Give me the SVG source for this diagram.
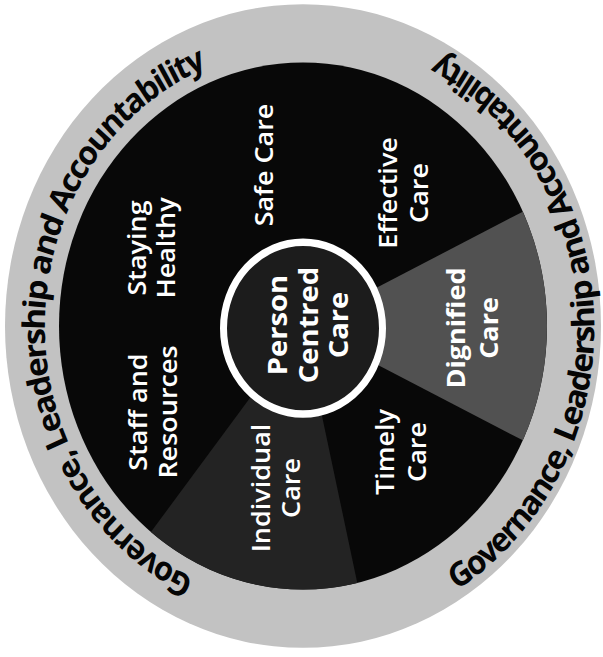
<svg xmlns="http://www.w3.org/2000/svg" width="603" height="657" viewBox="0 0 603 657">
  <style>
    .lbl { fill: #ffffff; font-family: "Open Sans", "Noto Sans", "DejaVu Sans", sans-serif; font-size: 25px; font-weight: 600; text-anchor: middle; }
    .ctr { fill: #ffffff; font-family: "Open Sans", "Noto Sans", "DejaVu Sans", sans-serif; font-size: 27px; font-weight: 700; text-anchor: middle; }
    .ring { fill: #050505; font-family: "Open Sans", "Noto Sans", "DejaVu Sans", sans-serif; font-size: 31px; font-weight: 700; text-anchor: middle; }
  </style>
  <defs>
    <path id="arcLeft" d="M -44.8,254.1 A 258,258 0 0,1 -31.4,-256.1"/>
    <path id="arcRight" d="M 74.3,277.3 A 284,284 0 0,0 54.2,-278.8"/>
  </defs>
  <rect width="603" height="657" fill="#ffffff"/>
  <g transform="translate(303,326) scale(1,1.08)">
    <g id="governance-ring">
      <circle r="298" fill="#c2c2c2"/>
      <text class="ring"><textPath href="#arcLeft" startOffset="50%" textLength="600" lengthAdjust="spacing">Governance, Leadership and Accountability</textPath></text>
      <text class="ring"><textPath href="#arcRight" startOffset="50%" textLength="605" lengthAdjust="spacing">Governance, Leadership and Accountability</textPath></text>
    </g>
    <circle id="care-disk" r="244" fill="#080808"/>
    <path id="dignified-sector" d="M0,0 L219.8,-105.9 A244,244 0 0,1 219.8,105.9 Z" fill="#515151"/>
    <path id="individual-sector" d="M0,0 L54.3,237.9 A244,244 0 0,1 -152.1,190.8 Z" fill="#232323"/>
    <g id="person-centred-care-circle">
      <circle cx="0" cy="2" r="79.5" fill="#1c1c1c" stroke="#ffffff" stroke-width="7"/>
    </g>
  </g>
  <g id="safe-care">
    <text class="lbl" transform="translate(273,165) rotate(-90) scale(1.08,1)">Safe Care</text>
  </g>
  <g id="effective-care">
    <text class="lbl" transform="translate(397,193) rotate(-90) scale(1.08,1)"><tspan x="0" y="0">Effective</tspan><tspan x="0" y="31">Care</tspan></text>
  </g>
  <g id="dignified-care">
    <text class="lbl" style="font-weight:700" transform="translate(465,328) rotate(-90) scale(1.08,1)"><tspan x="0" y="0">Dignified</tspan><tspan x="0" y="33">Care</tspan></text>
  </g>
  <g id="timely-care">
    <text class="lbl" transform="translate(394,452) rotate(-90) scale(1.08,1)"><tspan x="0" y="0">Timely</tspan><tspan x="0" y="32">Care</tspan></text>
  </g>
  <g id="individual-care">
    <text class="lbl" transform="translate(270,488) rotate(-90) scale(1.08,1)"><tspan x="0" y="0">Individual</tspan><tspan x="0" y="30">Care</tspan></text>
  </g>
  <g id="staff-and-resources">
    <text class="lbl" transform="translate(147,412) rotate(-90) scale(1.08,1)"><tspan x="0" y="0">Staff and</tspan><tspan x="0" y="30">Resources</tspan></text>
  </g>
  <g id="staying-healthy">
    <text class="lbl" transform="translate(146,248) rotate(-90) scale(1.08,1)"><tspan x="0" y="0">Staying</tspan><tspan x="0" y="29">Healthy</tspan></text>
  </g>
  <g id="person-centred-care">
    <text class="ctr" transform="translate(287,325) rotate(-90) scale(1.08,1)"><tspan x="0" y="0">Person</tspan><tspan x="0" y="31">Centred</tspan><tspan x="0" y="61">Care</tspan></text>
  </g>
</svg>
